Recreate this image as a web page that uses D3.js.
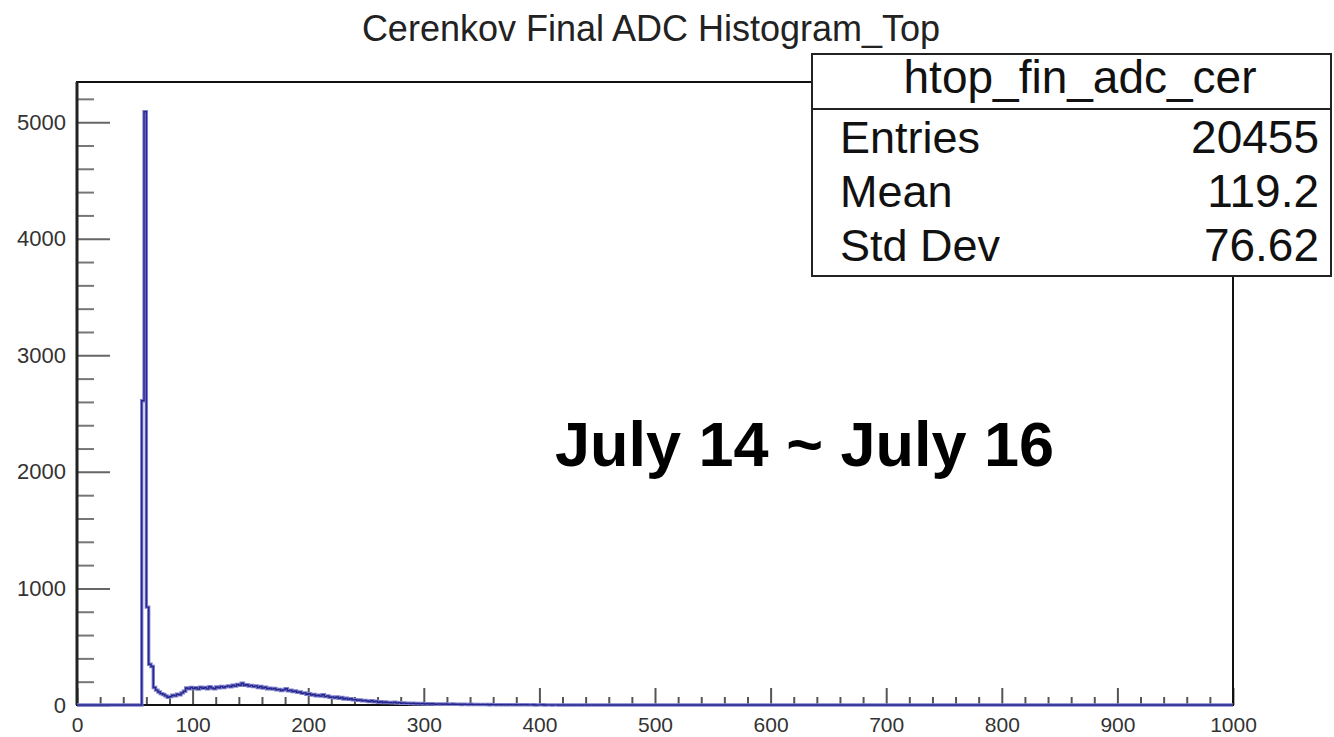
<!DOCTYPE html>
<html>
<head>
<meta charset="utf-8">
<script src="https://cdn.jsdelivr.net/npm/d3@7"></script>
<style>
  body { margin: 0; background: #fff; }
  svg { display: block; font-family: "Liberation Sans", Arial, Helvetica, sans-serif; }
</style>
</head>
<body>
<svg width="1334" height="737"></svg>
<script>
// histogram: 500 bins of width 2 over [0, 1000]; counts listed from binLow on, zero elsewhere
var binWidth = 2;
var binLow = 56;
var counts = [
  2610, 5090, 840, 350, 330, 150, 128, 112, 98, 90,
  78, 66, 72, 84, 78, 92, 88, 104, 118, 146,
  138, 150, 142, 148, 136, 152, 144, 150, 138, 156,
  146, 140, 154, 148, 160, 150, 158, 164, 156, 170,
  162, 176, 168, 186, 170, 174, 162, 168, 158, 164,
  150, 160, 146, 152, 140, 144, 136, 142, 130, 134,
  124, 130, 140, 122, 128, 116, 120, 108, 112, 100,
  104, 92, 96, 86, 90, 80, 84, 76, 88, 72,
  78, 66, 70, 62, 68, 58, 64, 52, 58, 48,
  54, 44, 46, 40, 44, 36, 40, 34, 30, 36,
  28, 32, 24, 28, 22, 26, 20, 22, 18, 24,
  16, 20, 15, 18, 14, 16, 12, 15, 11, 13,
  10, 14, 9, 12, 8, 11, 9, 7, 10, 8,
  6, 9, 7, 5, 8, 6, 5, 7, 4, 6,
  5, 4, 6, 3, 5, 4, 3, 5, 3, 4,
  2, 4, 3, 2, 3, 2, 3, 1, 2, 3,
  1, 2, 2, 1, 2, 1, 2, 1, 1, 2,
  0, 1, 1, 2, 0, 1, 1, 0, 1, 1,
  0, 1, 0, 1, 0, 1, 0, 0, 1, 0,
  0, 1, 0, 0, 1
];

var xDomain = [0, 1000];
var xMajor = [0, 100, 200, 300, 400, 500, 600, 700, 800, 900, 1000];
var yMajor = [0, 1000, 2000, 3000, 4000, 5000];

var titleText = "Cerenkov Final ADC Histogram_Top";
var histName = "htop_fin_adc_cer";
var statLabels = ["Entries", "Mean", "Std Dev"];
var statValues = ["20455", "119.2", "76.62"];
var noteText = "July 14 ~ July 16";

var padL = 77, padR = 1233, padT = 82, padB = 705;

var svg = d3.select("svg");

var peak = d3.max(counts);
var x = d3.scaleLinear().domain(xDomain).range([padL, padR]);
var y = d3.scaleLinear().domain([0, peak * 1.05]).range([padB, padT]);

// minor ticks
var xMinor = d3.range(0, 1001, 20).filter(function(v) { return v % 100 != 0; });
var yMinor = d3.range(0, peak * 1.05, 200).filter(function(v) { return v % 1000 != 0; });

svg.append("g")
  .attr("transform", "translate(0," + padB + ")")
  .call(d3.axisBottom(x).tickValues(xMinor).tickSize(-8).tickSizeOuter(0).tickFormat(""))
  .call(function(g) { g.select(".domain").remove(); })
  .selectAll("line").attr("stroke", "#555").attr("stroke-width", 2);

svg.append("g")
  .attr("transform", "translate(" + padL + ",0)")
  .call(d3.axisLeft(y).tickValues(yMinor).tickSize(-17).tickSizeOuter(0).tickFormat(""))
  .call(function(g) { g.select(".domain").remove(); })
  .selectAll("line").attr("stroke", "#777").attr("stroke-width", 2);

var xAxis = svg.append("g")
  .attr("transform", "translate(0," + padB + ")")
  .call(d3.axisBottom(x).tickValues(xMajor).tickSize(-17).tickSizeOuter(0)
    .tickPadding(12).tickFormat(d3.format("d")));
xAxis.select(".domain").remove();
xAxis.selectAll("line").attr("stroke", "#555").attr("stroke-width", 2);
xAxis.selectAll("text").attr("font-size", 21).attr("fill", "#333")
  .attr("font-family", "'Liberation Sans', Arial, sans-serif");

var yAxis = svg.append("g")
  .attr("transform", "translate(" + padL + ",0)")
  .call(d3.axisLeft(y).tickValues(yMajor).tickSize(-33).tickSizeOuter(0)
    .tickPadding(11).tickFormat(d3.format("d")));
yAxis.select(".domain").remove();
yAxis.selectAll("line").attr("stroke", "#666").attr("stroke-width", 2);
yAxis.selectAll("text").attr("font-size", 22).attr("fill", "#333")
  .attr("font-family", "'Liberation Sans', Arial, sans-serif");

// frame
svg.append("rect")
  .attr("x", padL).attr("y", padT)
  .attr("width", padR - padL).attr("height", padB - padT)
  .attr("fill", "none").attr("stroke", "#111").attr("stroke-width", 2);
svg.append("line")
  .attr("x1", padL).attr("x2", padL).attr("y1", padT).attr("y2", padB)
  .attr("stroke", "#222").attr("stroke-width", 3);

// step outline of the histogram
var pts = [[xDomain[0], 0], [binLow, 0]];
counts.forEach(function(c, i) {
  var lo = binLow + i * binWidth;
  pts.push([lo, c]);
  pts.push([lo + binWidth, c]);
});
pts.push([binLow + counts.length * binWidth, 0]);
pts.push([xDomain[1], 0]);

var line = d3.line()
  .x(function(d) { return x(d[0]); })
  .y(function(d) { return y(d[1]); });

svg.append("path")
  .attr("d", line(pts))
  .attr("fill", "none")
  .attr("stroke", "#8080cc")
  .attr("stroke-width", 3.4)
  .attr("stroke-linejoin", "miter");
svg.append("path")
  .attr("d", line(pts))
  .attr("fill", "none")
  .attr("stroke", "#26268f")
  .attr("stroke-width", 1.4);

// title
svg.append("text")
  .attr("x", 651).attr("y", 41)
  .attr("text-anchor", "middle")
  .attr("font-size", 36)
  .attr("fill", "#222")
  .text(titleText);

// stats box
var box = svg.append("g");
box.append("rect")
  .attr("x", 812).attr("y", 54)
  .attr("width", 519).attr("height", 222)
  .attr("fill", "#fff").attr("stroke", "#222").attr("stroke-width", 2);
box.append("line")
  .attr("x1", 812).attr("x2", 1331).attr("y1", 109).attr("y2", 109)
  .attr("stroke", "#222").attr("stroke-width", 2);
box.append("text")
  .attr("x", 1080).attr("y", 93)
  .attr("text-anchor", "middle")
  .attr("font-size", 46)
  .attr("fill", "#111")
  .text(histName);

statLabels.forEach(function(s, i) {
  box.append("text")
    .attr("x", 840).attr("y", 153 + i * 54)
    .attr("font-size", 45)
    .attr("fill", "#111")
    .text(s);
  box.append("text")
    .attr("x", 1319).attr("y", 153 + i * 54)
    .attr("text-anchor", "end")
    .attr("font-size", 46)
    .attr("fill", "#111")
    .text(statValues[i]);
});

// annotation
svg.append("text")
  .attr("x", 555).attr("y", 466)
  .attr("font-size", 63)
  .attr("font-weight", "bold")
  .attr("fill", "#000")
  .text(noteText);
</script>
</body>
</html>
